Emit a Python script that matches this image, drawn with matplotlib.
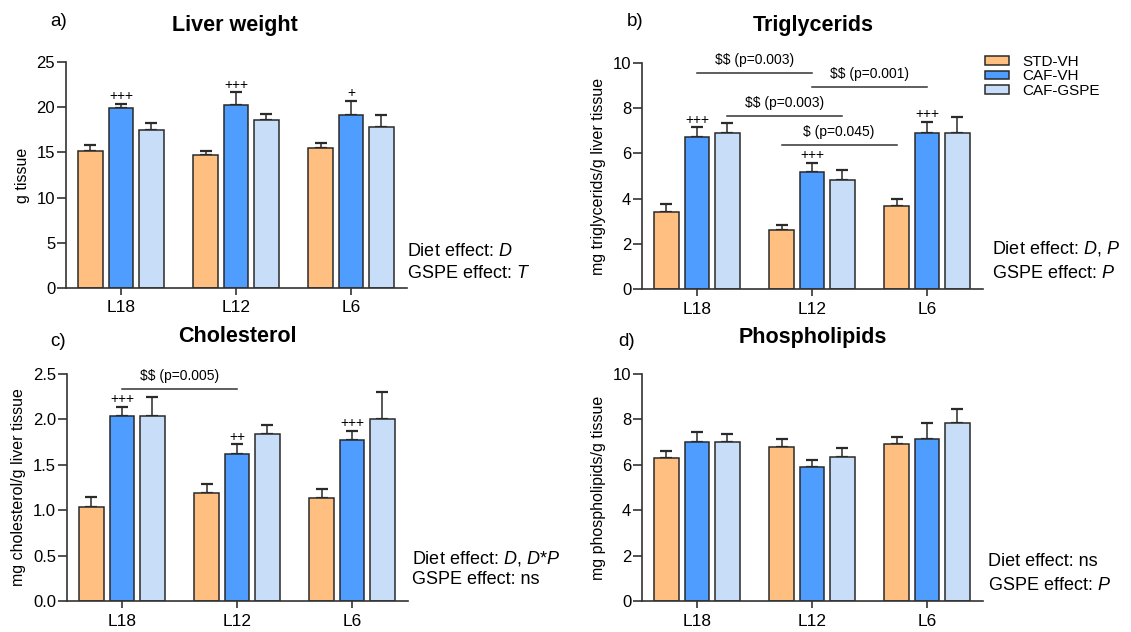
import numpy as np
import matplotlib
matplotlib.use("Agg")
import matplotlib.pyplot as plt
from matplotlib.patches import Patch

plt.rcParams['font.family'] = ['Liberation Sans', 'DejaVu Sans']
plt.rcParams['mathtext.fontset'] = 'custom'
plt.rcParams['mathtext.rm'] = 'Liberation Sans'
plt.rcParams['mathtext.it'] = 'Liberation Sans:italic'

groups = ["L18", "L12", "L6"]
series = ["STD-VH", "CAF-VH", "CAF-GSPE"]
colors = ["#FFBF80", "#4F9DFF", "#C8DDF7"]

# means and SEM (upper error) per series, order L18, L12, L6
liver_mean = {"STD-VH": [15.1, 14.7, 15.5], "CAF-VH": [19.9, 20.2, 19.1], "CAF-GSPE": [17.45, 18.55, 17.8]}
liver_err = {"STD-VH": [0.75, 0.5, 0.55], "CAF-VH": [0.5, 1.45, 1.6], "CAF-GSPE": [0.75, 0.65, 1.35]}

tg_mean = {"STD-VH": [3.41, 2.6, 3.67], "CAF-VH": [6.73, 5.16, 6.89], "CAF-GSPE": [6.9, 4.82, 6.89]}
tg_err = {"STD-VH": [0.34, 0.22, 0.3], "CAF-VH": [0.42, 0.42, 0.51], "CAF-GSPE": [0.43, 0.43, 0.74]}

chol_mean = {"STD-VH": [1.035, 1.186, 1.134], "CAF-VH": [2.04, 1.62, 1.773], "CAF-GSPE": [2.04, 1.835, 2.0]}
chol_err = {"STD-VH": [0.105, 0.104, 0.103], "CAF-VH": [0.1, 0.105, 0.103], "CAF-GSPE": [0.21, 0.105, 0.305]}

pl_mean = {"STD-VH": [6.28, 6.8, 6.9], "CAF-VH": [7.02, 5.92, 7.14], "CAF-GSPE": [7.02, 6.34, 7.86]}
pl_err = {"STD-VH": [0.31, 0.32, 0.31], "CAF-VH": [0.42, 0.31, 0.72], "CAF-GSPE": [0.32, 0.41, 0.61]}

# "+" marks above CAF-VH bars
liver_plus = ["+++", "+++", "+"]
tg_plus = ["+++", "+++", "+++"]
chol_plus = ["+++", "++", "+++"]
pl_plus = ["", "", ""]

# significance brackets: (group_a, series_a, group_b, series_b, y, label)
tg_sig = [(0, 1, 1, 1, 9.54, "\\$\\$ (p=0.003)"),
          (1, 1, 2, 1, 8.92, "\\$\\$ (p=0.001)"),
          (0, 2, 1, 2, 7.65, "\\$\\$ (p=0.003)"),
          (1, 0, 2, 0, 6.37, "\\$ (p=0.045)")]
chol_sig = [(0, 1, 1, 1, 2.33, "\\$\\$ (p=0.005)")]

fig = plt.figure(figsize=(11.31, 6.32), dpi=100)
W, H = 1131, 632


def fx(px):
    return px / W


def fy(py):
    return 1 - py / H


def panel(rect, means, errs, ylim, yticks, ylabel, plus, sig, fmt):
    ax = fig.add_axes(rect)
    x = np.arange(len(groups))
    offs = [-0.265, 0, 0.265]
    width = 0.211
    for i, s in enumerate(series):
        xs = x + offs[i]
        ax.bar(xs, means[s], width, color=colors[i], edgecolor="#2a2a2a", linewidth=1.1, zorder=2)
        ax.errorbar(xs, means[s], yerr=[np.zeros(3), errs[s]], fmt="none", ecolor="#2a2a2a",
                    elinewidth=1.1, capsize=4.4, capthick=1.6, zorder=1)
    caf = np.array(means["CAF-VH"]) + np.array(errs["CAF-VH"])
    for g in range(len(groups)):
        if plus[g]:
            ax.annotate(plus[g], (x[g] + offs[1], caf[g]), xytext=(0, 0.5), textcoords="offset points",
                        ha="center", va="bottom", fontsize=10)
    for ga, sa, gb, sb, yv, lab in sig:
        x0 = x[ga] + offs[sa]
        x1 = x[gb] + offs[sb]
        ax.plot([x0, x1], [yv, yv], color="#333333", linewidth=1.1, clip_on=False)
        ax.annotate(lab, ((x0 + x1) / 2, yv), xytext=(0, 4.5), textcoords="offset points",
                    ha="center", va="bottom", fontsize=10, annotation_clip=False)
    ax.set_xlim(-0.478, 2.487)
    ax.set_ylim(*ylim)
    ax.set_yticks(yticks)
    ax.set_yticklabels([fmt.format(t) for t in yticks], fontsize=12)
    ax.set_xticks(x)
    ax.set_xticklabels(groups, fontsize=12.5)
    ax.set_ylabel(ylabel, fontsize=11.5, labelpad=5)
    for sp in ["top", "right"]:
        ax.spines[sp].set_visible(False)
    for sp in ["left", "bottom"]:
        ax.spines[sp].set_color("#333333")
        ax.spines[sp].set_linewidth(1.2)
    ax.tick_params(axis="y", length=6.3, width=1.2, color="#333333", pad=1.5)
    ax.tick_params(axis="x", length=5, width=1.2, color="#333333", pad=4)
    return ax


panel([fx(66), fy(288), fx(341), (288 - 62) / H], liver_mean, liver_err, (0, 25), [0, 5, 10, 15, 20, 25],
      "g tissue", liver_plus, [], "{:g}")
panel([fx(642), fy(289), fx(341), (289 - 63) / H], tg_mean, tg_err, (0, 10), [0, 2, 4, 6, 8, 10],
      "mg triglycerids/g liver tissue", tg_plus, tg_sig, "{:g}")
panel([fx(67), fy(601), fx(341), (601 - 374) / H], chol_mean, chol_err, (0, 2.5), [0, 0.5, 1.0, 1.5, 2.0, 2.5],
      "mg cholesterol/g liver tissue", chol_plus, chol_sig, "{:.1f}")
panel([fx(642), fy(601), fx(341), (601 - 374) / H], pl_mean, pl_err, (0, 10), [0, 2, 4, 6, 8, 10],
      "mg phospholipids/g tissue", pl_plus, [], "{:g}")

# titles and panel letters
for txt, px, py in [("Liver weight", 235, 25), ("Triglycerids", 813, 26),
                    ("Cholesterol", 237, 337), ("Phospholipids", 813, 337)]:
    fig.text(fx(px), fy(py), txt, ha="center", va="center", fontsize=15.5, fontweight="bold")
for txt, px, py in [("a)", 50, 21), ("b)", 627, 21), ("c)", 50, 342), ("d)", 618, 341)]:
    fig.text(fx(px), fy(py), txt, ha="left", va="center", fontsize=13.5)

# effect notes
notes = [("Diet effect: $\\mathit{D}$", "GSPE effect: $\\mathit{T}$", 407, 252, 274),
         ("Diet effect: $\\mathit{D}$, $\\mathit{P}$", "GSPE effect: $\\mathit{P}$", 992, 249, 273),
         ("Diet effect: $\\mathit{D}$, $\\mathit{D}$*$\\mathit{P}$", "GSPE effect: ns", 412, 558, 580),
         ("Diet effect: ns", "GSPE effect: $\\mathit{P}$", 988, 562, 586)]
for l1, l2, px, py1, py2 in notes:
    fig.text(fx(px), fy(py1), l1, ha="left", va="center", fontsize=13)
    fig.text(fx(px), fy(py2), l2, ha="left", va="center", fontsize=13)

handles = [Patch(facecolor=c, edgecolor="#2a2a2a", linewidth=1.1) for c in colors]
fig.legend(handles, series, loc="upper left", bbox_to_anchor=(fx(985), fy(55)), frameon=False,
           fontsize=11, handlelength=1.57, handleheight=0.45, labelspacing=0.03, handletextpad=0.9,
           borderaxespad=0, borderpad=0)

fig.savefig("out.png", dpi=100)
